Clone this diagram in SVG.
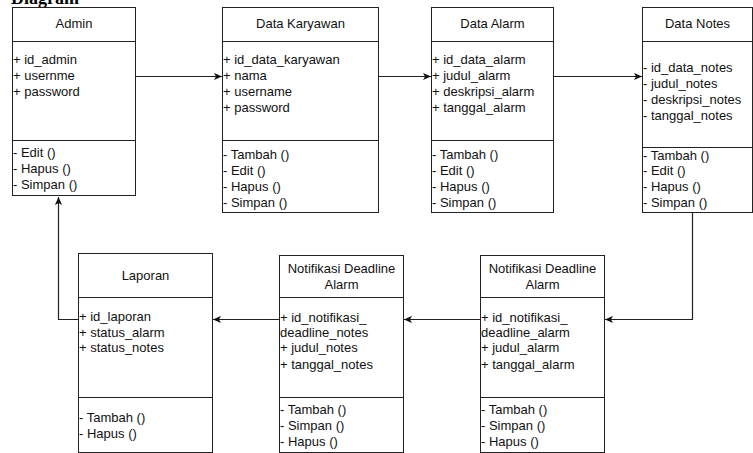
<svg xmlns="http://www.w3.org/2000/svg" width="753" height="453" viewBox="0 0 753 453">
<style>
.box{fill:#fff;stroke:#222;stroke-width:1}
.ln{stroke:#222;stroke-width:1;fill:none}
.t{font-family:"Liberation Sans",Arial,sans-serif;font-size:13px;fill:#111}
.c{text-anchor:middle}
.con{stroke:#222;stroke-width:1.2;fill:none;marker-end:url(#arr)}
</style>
<defs>
<marker id="arr" viewBox="0 0 10 10" refX="10" refY="5" markerWidth="9" markerHeight="8" markerUnits="userSpaceOnUse" orient="auto">
<path d="M0,0.5 L10,5 L0,9.5 L2.5,5 z" fill="#111"/>
</marker>
</defs>
<rect width="753" height="453" fill="#fff"/>
<text x="79" y="4" text-anchor="end" style="font-family:'Liberation Serif',serif;font-weight:bold;font-size:18px;fill:#000">Diagram</text>

<g id="admin">
<rect class="box" x="12.5" y="7.5" width="123" height="188"/>
<line class="ln" x1="12.5" y1="41.5" x2="135.5" y2="41.5"/>
<line class="ln" x1="12.5" y1="140.5" x2="135.5" y2="140.5"/>
<text class="t c" x="74" y="28">Admin</text>
<text class="t" x="13" y="64">+ id_admin</text>
<text class="t" x="13" y="80">+ usernme</text>
<text class="t" x="13" y="96">+ password</text>
<text class="t" x="13" y="157">- Edit ()</text>
<text class="t" x="13" y="173">- Hapus ()</text>
<text class="t" x="13" y="189">- Simpan ()</text>
</g>

<g id="data-karyawan">
<rect class="box" x="222.5" y="7.5" width="156" height="205"/>
<line class="ln" x1="222.5" y1="41.5" x2="378.5" y2="41.5"/>
<line class="ln" x1="222.5" y1="140.5" x2="378.5" y2="140.5"/>
<text class="t c" x="300.5" y="28">Data Karyawan</text>
<text class="t" x="223" y="64">+ id_data_karyawan</text>
<text class="t" x="223" y="80">+ nama</text>
<text class="t" x="223" y="96">+ username</text>
<text class="t" x="223" y="112">+ password</text>
<text class="t" x="223" y="159">- Tambah ()</text>
<text class="t" x="223" y="175">- Edit ()</text>
<text class="t" x="223" y="191">- Hapus ()</text>
<text class="t" x="223" y="207">- Simpan ()</text>
</g>

<g id="data-alarm">
<rect class="box" x="431.5" y="7.5" width="122" height="205"/>
<line class="ln" x1="431.5" y1="41.5" x2="553.5" y2="41.5"/>
<line class="ln" x1="431.5" y1="140.5" x2="553.5" y2="140.5"/>
<text class="t c" x="492.5" y="28">Data Alarm</text>
<text class="t" x="432" y="64">+ id_data_alarm</text>
<text class="t" x="432" y="80">+ judul_alarm</text>
<text class="t" x="432" y="96">+ deskripsi_alarm</text>
<text class="t" x="432" y="112">+ tanggal_alarm</text>
<text class="t" x="432" y="159">- Tambah ()</text>
<text class="t" x="432" y="175">- Edit ()</text>
<text class="t" x="432" y="191">- Hapus ()</text>
<text class="t" x="432" y="207">- Simpan ()</text>
</g>

<g id="data-notes">
<rect class="box" x="642.5" y="7.5" width="110" height="205"/>
<line class="ln" x1="642.5" y1="41.5" x2="752.5" y2="41.5"/>
<line class="ln" x1="642.5" y1="147.5" x2="752.5" y2="147.5"/>
<text class="t c" x="697.5" y="28">Data Notes</text>
<text class="t" x="643" y="72">- id_data_notes</text>
<text class="t" x="643" y="88">- judul_notes</text>
<text class="t" x="643" y="104">- deskripsi_notes</text>
<text class="t" x="643" y="120">- tanggal_notes</text>
<text class="t" x="643" y="160">- Tambah ()</text>
<text class="t" x="643" y="175">- Edit ()</text>
<text class="t" x="643" y="191">- Hapus ()</text>
<text class="t" x="643" y="207">- Simpan ()</text>
</g>

<g id="laporan">
<rect class="box" x="78.5" y="253.5" width="134" height="199"/>
<line class="ln" x1="78.5" y1="297.5" x2="212.5" y2="297.5"/>
<line class="ln" x1="78.5" y1="397.5" x2="212.5" y2="397.5"/>
<text class="t c" x="145.5" y="280">Laporan</text>
<text class="t" x="79" y="321">+ id_laporan</text>
<text class="t" x="79" y="337">+ status_alarm</text>
<text class="t" x="79" y="352">+ status_notes</text>
<text class="t" x="79" y="422">- Tambah ()</text>
<text class="t" x="79" y="438">- Hapus ()</text>
</g>

<g id="notifikasi-deadline-notes">
<rect class="box" x="279.5" y="255.5" width="124" height="197"/>
<line class="ln" x1="279.5" y1="297.5" x2="403.5" y2="297.5"/>
<line class="ln" x1="279.5" y1="397.5" x2="403.5" y2="397.5"/>
<text class="t c" x="341.5" y="273">Notifikasi Deadline</text>
<text class="t c" x="341.5" y="289">Alarm</text>
<text class="t" x="280" y="322">+ id_notifikasi_</text>
<text class="t" x="280" y="337">deadline_notes</text>
<text class="t" x="280" y="352">+ judul_notes</text>
<text class="t" x="280" y="369">+ tanggal_notes</text>
<text class="t" x="280" y="414">- Tambah ()</text>
<text class="t" x="280" y="430">- Simpan ()</text>
<text class="t" x="280" y="446">- Hapus ()</text>
</g>

<g id="notifikasi-deadline-alarm">
<rect class="box" x="480.5" y="255.5" width="124" height="197"/>
<line class="ln" x1="480.5" y1="297.5" x2="604.5" y2="297.5"/>
<line class="ln" x1="480.5" y1="397.5" x2="604.5" y2="397.5"/>
<text class="t c" x="542.5" y="273">Notifikasi Deadline</text>
<text class="t c" x="542.5" y="289">Alarm</text>
<text class="t" x="481" y="322">+ id_notifikasi_</text>
<text class="t" x="481" y="337">deadline_alarm</text>
<text class="t" x="481" y="352">+ judul_alarm</text>
<text class="t" x="481" y="369">+ tanggal_alarm</text>
<text class="t" x="481" y="414">- Tambah ()</text>
<text class="t" x="481" y="430">- Simpan ()</text>
<text class="t" x="481" y="446">- Hapus ()</text>
</g>

<g id="connectors">
<path class="con" d="M135.5,76.5 H222"/>
<path class="con" d="M378.5,76.5 H431"/>
<path class="con" d="M553.5,76.5 H642"/>
<path class="con" d="M692.5,212.5 V319.5 H605"/>
<path class="con" d="M480.5,319.5 H404"/>
<path class="con" d="M279.5,319.5 H213"/>
<path class="con" d="M78.5,319.5 H58.5 V197"/>
</g>
</svg>
